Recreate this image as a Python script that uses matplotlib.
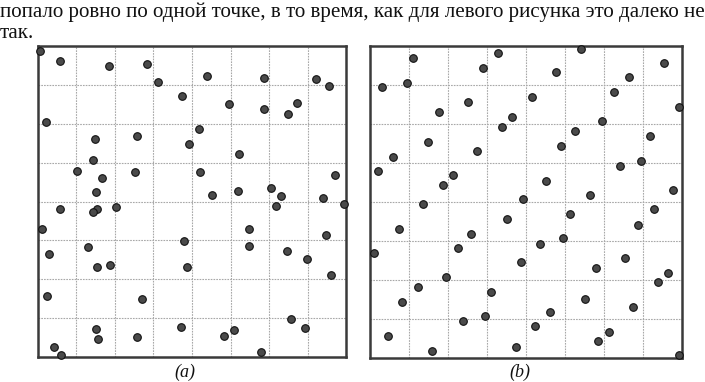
import matplotlib
matplotlib.use("Agg")
import matplotlib.pyplot as plt
import numpy as np

caption_line1 = "попало ровно по одной точке, в то время, как для левого рисунка это далеко не"
caption_line2 = "так."
panel_labels = ["(a)", "(b)"]
grid_cells = 8

# (a) pseudo-random points, unit square
a_x = [0.006, 0.072, 0.231, 0.353, 0.390, 0.466, 0.027, 0.185, 0.323, 0.489,
       0.180, 0.126, 0.315, 0.209, 0.189, 0.547, 0.734, 0.903, 0.945, 0.621,
       0.732, 0.839, 0.810, 0.523, 0.652, 0.525, 0.963, 0.565, 0.649, 0.756,
       0.788, 0.924, 0.072, 0.191, 0.178, 0.253, 0.015, 0.164, 0.473, 0.037,
       0.191, 0.234, 0.485, 0.031, 0.338, 0.189, 0.195, 0.321, 0.463, 0.053,
       0.076, 0.992, 0.773, 0.685, 0.934, 0.686, 0.807, 0.872, 0.951, 0.822,
       0.867, 0.635, 0.603, 0.723]
a_y = [0.983, 0.951, 0.935, 0.942, 0.884, 0.839, 0.755, 0.702, 0.711, 0.686,
       0.633, 0.599, 0.595, 0.576, 0.530, 0.904, 0.896, 0.893, 0.871, 0.814,
       0.798, 0.816, 0.782, 0.734, 0.652, 0.596, 0.584, 0.522, 0.534, 0.542,
       0.519, 0.510, 0.476, 0.477, 0.466, 0.481, 0.412, 0.355, 0.372, 0.332,
       0.289, 0.296, 0.289, 0.198, 0.187, 0.091, 0.058, 0.066, 0.098, 0.033,
       0.008, 0.492, 0.485, 0.412, 0.393, 0.356, 0.342, 0.315, 0.264, 0.122,
       0.093, 0.088, 0.067, 0.017]

# (b) quasi-random points, unit square
b_x = [0.139, 0.410, 0.362, 0.039, 0.120, 0.315, 0.222, 0.456, 0.424, 0.185,
       0.343, 0.074, 0.027, 0.265, 0.233, 0.492, 0.678, 0.944, 0.597, 0.831,
       0.520, 0.783, 0.992, 0.745, 0.659, 0.899, 0.612, 0.869, 0.802, 0.565,
       0.973, 0.706, 0.170, 0.092, 0.440, 0.323, 0.013, 0.282, 0.485, 0.243,
       0.154, 0.389, 0.103, 0.369, 0.298, 0.057, 0.199, 0.468, 0.642, 0.911,
       0.861, 0.546, 0.620, 0.819, 0.725, 0.957, 0.924, 0.691, 0.579, 0.844,
       0.531, 0.766, 0.733, 0.992]
b_y = [0.962, 0.977, 0.929, 0.867, 0.880, 0.819, 0.788, 0.772, 0.740, 0.692,
       0.663, 0.643, 0.597, 0.585, 0.554, 0.508, 0.990, 0.944, 0.915, 0.900,
       0.837, 0.852, 0.804, 0.759, 0.727, 0.710, 0.679, 0.631, 0.615, 0.567,
       0.538, 0.521, 0.492, 0.413, 0.444, 0.397, 0.335, 0.351, 0.306, 0.258,
       0.228, 0.211, 0.179, 0.133, 0.118, 0.069, 0.021, 0.034, 0.461, 0.477,
       0.426, 0.365, 0.384, 0.319, 0.288, 0.271, 0.244, 0.189, 0.147, 0.163,
       0.101, 0.083, 0.054, 0.009]

W, H = 705, 382
fig = plt.figure(figsize=(W / 100, H / 100), dpi=100)
fig.patch.set_facecolor("white")

serif = ["Liberation Serif", "DejaVu Serif"]
fig.text(0.0, 1 - 12 / H, caption_line1, family=serif, fontsize=15.1,
         ha="left", va="center", color="#111111")
fig.text(0.0, 1 - 33 / H, caption_line2, family=serif, fontsize=15.1,
         ha="left", va="center", color="#111111")

rects = [
    [37.8 / W, (H - 357.3) / H, 308.5 / W, 311.6 / H],
    [370.0 / W, (H - 357.7) / H, 311.5 / W, 312.0 / H],
]
datasets = [(a_x, a_y), (b_x, b_y)]
label_x = [185 / W, 520 / W]

for rect, (xs, ys), lab, lx in zip(rects, datasets, panel_labels, label_x):
    ax = fig.add_axes(rect)
    ax.set_xlim(0, 1)
    ax.set_ylim(0, 1)
    ticks = np.arange(1, grid_cells) / grid_cells
    ax.set_xticks(ticks)
    ax.set_yticks(ticks)
    ax.tick_params(length=0, labelbottom=False, labelleft=False)
    ax.grid(True, color="#a8a8a8", linestyle=(0, (1.5, 1)), linewidth=0.8)
    ax.set_axisbelow(True)
    for sp in ax.spines.values():
        sp.set_linewidth(1.8)
        sp.set_color("#3a3a3a")
    ax.scatter(xs, ys, s=30, c="#4a4a4a", edgecolors="#111111",
               linewidths=0.8, zorder=3, clip_on=False)
    fig.text(lx, 1 - 372 / H, lab, family=serif, style="italic",
             fontsize=13, ha="center", va="center", color="#111111")

fig.savefig("out.png", dpi=100, facecolor="white")
